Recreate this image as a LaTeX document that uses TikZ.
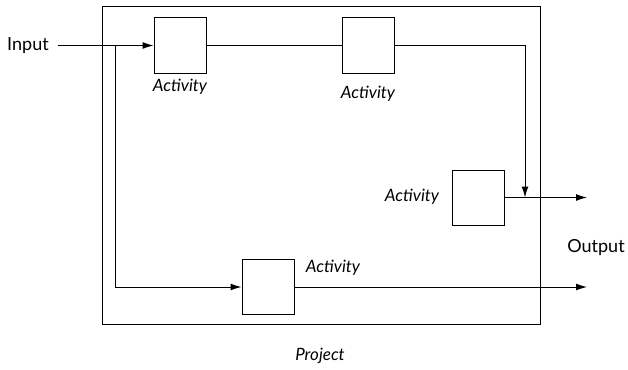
\documentclass[tikz,border=0pt]{standalone}
\usepackage{fontspec}
\setmainfont{Lato}
\usetikzlibrary{arrows.meta,positioning}

\begin{document}
\begin{tikzpicture}[x=1pt,y=-1pt, line width=1pt,
    every node/.style={font=\fontsize{18}{21}\selectfont},
    activity/.style={draw,minimum width=52pt,minimum height=55pt,inner sep=0pt},
    tag/.style={font=\fontsize{17}{20}\selectfont\itshape},
    flow/.style={-{Latex[length=11pt,width=7pt]}}]
    \useasboundingbox (0,0) rectangle (628,369);
    % project frame
    \node[draw,minimum width=438pt,minimum height=317pt,inner sep=0pt] (project) at (321,165.5) {};
    \node[tag] (projlbl) at (320,356) {Project};
    % activities
    \node[activity] (act1) at (180,45.5) {};
    \node[activity] (act2) at (368,45.5) {};
    \node[activity] (act3) at (478.5,197.5) {};
    \node[activity] (act4) at (268,287) {};
    \node[tag] (lbl1) at (180,87) {Activity};
    \node[tag] (lbl2) at (368,94) {Activity};
    \node[tag] (lbl3) at (412,197) {Activity};
    \node[tag] (lbl4) at (333,268) {Activity};
    % in and out
    \node[outer sep=6pt] (input) at (28,45.5) {Input};
    \node (output) at (596,248) {Output};
    \coordinate (split) at (115,45.5);
    \coordinate (drop) at (525,197.5);
    \coordinate (out1) at (587,197.5);
    \coordinate (out2) at (587,287);
    \draw[flow] (input) -- (act1);
    \draw[flow] (split) |- (act4);
    \draw[flow] (act2) -| (drop);
    \draw[flow] (act3) -- (out1);
    \draw[flow] (act4) -- (out2);
    \draw (act1) -- (act2);
\end{tikzpicture}
\end{document}
